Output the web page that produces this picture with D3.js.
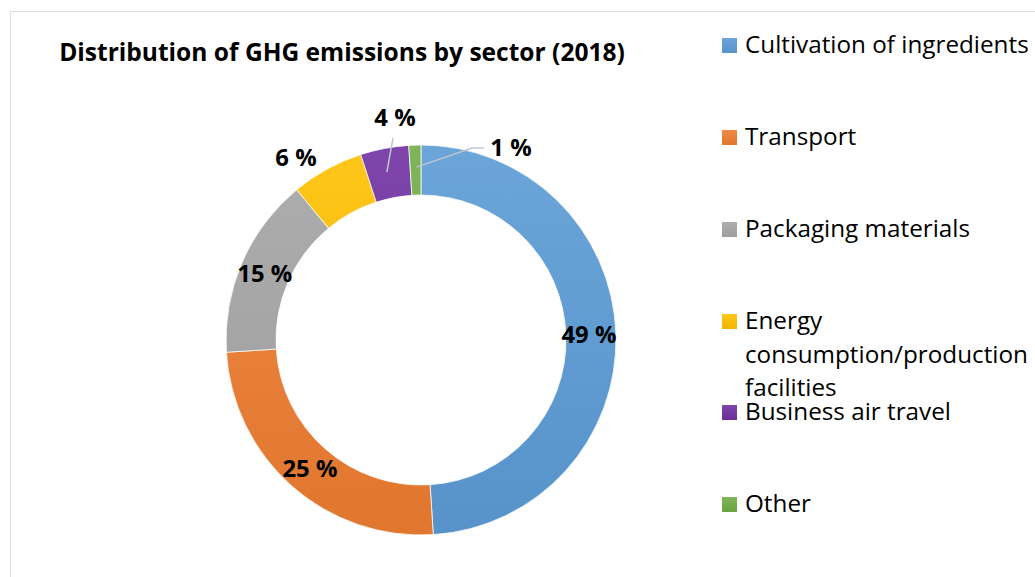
<!DOCTYPE html>
<html>
<head>
<meta charset="utf-8">
<script src="https://cdn.jsdelivr.net/npm/d3@7"></script>
<style>
  html, body { margin: 0; padding: 0; background: #ffffff; }
  svg { display: block; }
  text { font-family: "Open Sans", "Noto Sans", sans-serif; }
</style>
</head>
<body>
<svg id="chart" width="1035" height="577"></svg>
<script>
// Sector names, shares (%) and fill colours
const sectors = [
  "Cultivation of ingredients",
  "Transport",
  "Packaging materials",
  "Energy consumption/production facilities",
  "Business air travel",
  "Other"
];
const shares = [49, 25, 15, 6, 4, 1];
const colors = ["#5B9BD5", "#ED7D31", "#A5A5A5", "#FFC000", "#7030A0", "#70AD47"];

// Legend text lines (the long label wraps onto three lines)
const legendLines = [
  ["Cultivation of ingredients"],
  ["Transport"],
  ["Packaging materials"],
  ["Energy", "consumption/production", "facilities"],
  ["Business air travel"],
  ["Other"]
];

const titleText = "Distribution of GHG emissions by sector (2018)";

const svg = d3.select("#chart");
const W = 1035, H = 577;

// Font size that makes a string occupy a given width
function fitSize(str, width, weight) {
  const t = svg.append("text").attr("font-size", 20).attr("font-weight", weight).text(str);
  const w = t.node().getComputedTextLength();
  t.remove();
  return 20 * width / w;
}

// Chart area frame
svg.append("rect")
  .attr("x", 10.5).attr("y", 11.5)
  .attr("width", W + 20).attr("height", H + 20)
  .attr("fill", "#ffffff")
  .attr("stroke", "#d9dde3").attr("stroke-width", 1);

// Title
const titleSize = fitSize(titleText, 566, "bold");
svg.append("text")
  .attr("x", 342).attr("y", 61)
  .attr("text-anchor", "middle")
  .attr("font-size", titleSize).attr("font-weight", "bold")
  .attr("fill", "#000")
  .text(titleText);

const cx = 421, cy = 340, rOuter = 195, rInner = 145;

// Vertical gradients: lighter at the top, deeper at the bottom
const defs = svg.append("defs");
function addGradient(id, c, units) {
  const base = d3.color(c);
  const g = defs.append("linearGradient").attr("id", id);
  if (units) {
    g.attr("gradientUnits", "userSpaceOnUse")
      .attr("x1", 0).attr("y1", -rOuter)
      .attr("x2", 0).attr("y2", rOuter);
  } else {
    g.attr("x1", 0).attr("y1", 0).attr("x2", 0).attr("y2", 1);
  }
  g.append("stop").attr("offset", "0%").attr("stop-color", d3.interpolateRgb(base, "#ffffff")(0.1));
  g.append("stop").attr("offset", "100%").attr("stop-color", base.darker(0.15));
}
colors.forEach((c, i) => {
  addGradient("grad" + i, c, true);
  addGradient("lgrad" + i, c, false);
});

const data = sectors.map((s, i) => ({ name: s, value: shares[i], i }));

const pie = d3.pie().sort(null).value(d => d.value);
const arcs = pie(data);
const arc = d3.arc().innerRadius(rInner).outerRadius(rOuter);

const g = svg.append("g").attr("transform", `translate(${cx},${cy})`);

g.selectAll("path.slice")
  .data(arcs)
  .join("path")
  .attr("class", "slice")
  .attr("d", arc)
  .attr("fill", d => `url(#grad${d.data.i})`)
  .attr("stroke", "#ffffff")
  .attr("stroke-width", 0.75);

// Data labels: positions along the ring, with leader lines for the small slices
const labelArc = d3.arc().innerRadius(rOuter - 27).outerRadius(rOuter - 27);
const labelPos = arcs.map(a => labelArc.centroid(a));
// outside placements for the narrow slices
const outside = {
  3: [-125, -182],
  4: [-26, -222],
  5: [90, -192]
};

const fmt = v => `${v} %`;

// Leader lines
const leader = d3.line();
const ringMid = d3.arc().innerRadius(rOuter - 18).outerRadius(rOuter - 18);
[4, 5].forEach(i => {
  const [px, py] = ringMid.centroid(arcs[i]);
  let pts;
  if (i === 4) {
    pts = [[px - 1, py + 6], [outside[4][0] - 2, outside[4][1] + 20]];
  } else {
    pts = [[px + 1, py + 4], [outside[5][0] - 39, outside[5][1]], [outside[5][0] - 27, outside[5][1]]];
  }
  g.append("path")
    .attr("d", leader(pts))
    .attr("fill", "none")
    .attr("stroke", "#bfc6d0")
    .attr("stroke-width", 1.5);
});

const labelSize = fitSize("49 %", 55, "bold");
g.selectAll("text.val")
  .data(arcs)
  .join("text")
  .attr("class", "val")
  .attr("x", (d, i) => outside[i] ? outside[i][0] : labelPos[i][0] - (i === 2 ? 2 : 0))
  .attr("y", (d, i) => outside[i] ? outside[i][1] : labelPos[i][1] + (i === 1 ? 3 : 0))
  .attr("dy", "0.35em")
  .attr("text-anchor", "middle")
  .attr("font-size", labelSize)
  .attr("font-weight", "bold")
  .attr("fill", "#000")
  .text(d => fmt(d.data.value));

// Legend
const legendX = 722;
const legendTop = [38, 130, 222, 314, 405, 497];
const legendSize = fitSize(legendLines[0][0], 284, "normal");
const lg = svg.append("g");
legendLines.forEach((lines, i) => {
  lg.append("rect")
    .attr("x", legendX).attr("y", legendTop[i])
    .attr("width", 15).attr("height", 15)
    .attr("fill", `url(#lgrad${i})`);
  lines.forEach((ln, j) => {
    lg.append("text")
      .attr("x", legendX + 23)
      .attr("y", legendTop[i] + 15 + j * 33.5)
      .attr("font-size", legendSize)
      .attr("fill", "#000")
      .text(ln);
  });
});
</script>
</body>
</html>
